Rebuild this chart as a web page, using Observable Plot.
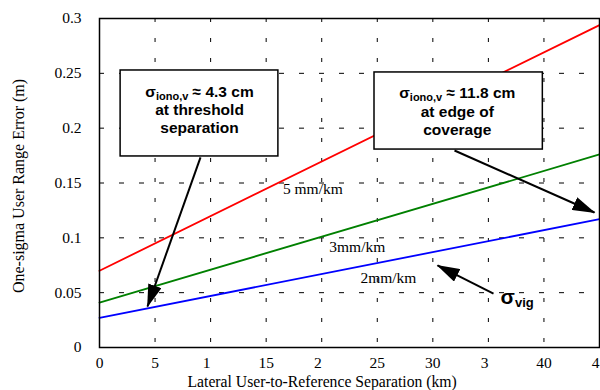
<!DOCTYPE html>
<html><head><meta charset="utf-8">
<script src="https://cdn.jsdelivr.net/npm/d3@7"></script>
<script src="https://cdn.jsdelivr.net/npm/@observablehq/plot@0.6"></script>
<style>body{margin:0;background:#fff}</style>
</head><body><div id="chart"></div>
<script>
// ---- data ----
const separationKm = [0, 45];
const error5mm = [0.070, 0.294];
const error3mm = [0.041, 0.176];
const error2mm = [0.027, 0.117];
const seriesColors = ["#ff0000", "#008000", "#0000ff"];

const xTicks = [0, 5, 10, 15, 20, 25, 30, 35, 40, 45];
const xTickLabels = ["0", "5", "1\u2007", "15", "2\u2007", "25", "30", "3\u2007", "40", "4\u2007"];
const yTicks = [0, 0.05, 0.1, 0.15, 0.2, 0.25, 0.3];
const yTickLabels = ["0", "0.05", "0.1", "0.15", "0.2", "0.25", "0.3"];

const lineLabels = ["5 mm/km", "3mm/km", "2mm/km"];
const lineLabelX = [19.2, 23.2, 26.0];
const lineLabelY = [0.1441, 0.0912, 0.0629];

const boxX1 = [1.9, 24.75];
const boxX2 = [16.1, 39.9];
const boxY1 = [0.1742, 0.1805];
const boxY2 = [0.2526, 0.2508];

const boxTexts = ["σ_{iono,v} ≈ 4.3 cm", "at threshold", "separation",
                  "σ_{iono,v} ≈ 11.8 cm", "at edge of", "coverage"];
const boxTextX = [9.0, 9.0, 9.0, 32.2, 32.2, 32.2];
const boxTextY = [0.2325, 0.2161, 0.1997, 0.2316, 0.2143, 0.1979];

const arrowX1 = [9.09, 31.95, 35.46];
const arrowY1 = [0.1733, 0.1796, 0.0492];
const arrowX2 = [4.32, 44.55, 30.42];
const arrowY2 = [0.0374, 0.1231, 0.0748];

const vigLabel = ["σ_{vig}"];
const vigX = [36.1];
const vigY = [0.0455];

const xTitle = "Lateral User-to-Reference Separation (km)";
const yTitle = "One-sigma User Range Error (m)";

// ---- build tables ----
const lines = [];
[error5mm, error3mm, error2mm].forEach((arr, s) =>
  arr.forEach((v, i) => lines.push({x: separationKm[i], y: v, s})));
const labelsT = lineLabels.map((t, i) => ({t, x: lineLabelX[i], y: lineLabelY[i]}));
const boxesT = boxX1.map((_, i) => ({x1: boxX1[i], x2: boxX2[i], y1: boxY1[i], y2: boxY2[i]}));
const boxTextT = boxTexts.map((t, i) => ({t, x: boxTextX[i], y: boxTextY[i]}));
const arrowsT = arrowX1.map((_, i) => ({x1: arrowX1[i], y1: arrowY1[i], x2: arrowX2[i], y2: arrowY2[i]}));
const vigT = vigLabel.map((t, i) => ({t, x: vigX[i], y: vigY[i]}));

const serif = "'Liberation Serif', 'Times New Roman', serif";
const sans = "'Liberation Sans', Arial, sans-serif";

const chart = Plot.plot({
  width: 600, height: 390,
  marginLeft: 99, marginRight: 1, marginTop: 18, marginBottom: 43,
  style: {fontFamily: serif, fontSize: "15.5px", background: "#fff", color: "#000"},
  x: {domain: [0, 45]},
  y: {domain: [0, 0.3]},
  marks: [
    Plot.gridX(xTicks.slice(1, -1), {stroke: "#000", strokeOpacity: 1, strokeWidth: 1, strokeDasharray: "4,16"}),
    Plot.gridY(yTicks.slice(1, -1), {stroke: "#000", strokeOpacity: 1, strokeWidth: 1, strokeDasharray: "5,15"}),
    Plot.line(lines, {x: "x", y: "y", z: "s", stroke: d => seriesColors[d.s], strokeWidth: 1.8}),
    Plot.rect(boxesT, {x1: "x1", x2: "x2", y1: "y1", y2: "y2", fill: "#fff", stroke: "#000", strokeWidth: 1.5}),
    Plot.text(boxTextT, {x: "x", y: "y", text: "t", fontFamily: sans, fontWeight: "bold", fontSize: 15.5, fill: "#000"}),
    Plot.text(labelsT, {x: "x", y: "y", text: "t", fontFamily: serif, fontSize: 15.5, fill: "#000"}),
    Plot.link(arrowsT, {x1: "x1", y1: "y1", x2: "x2", y2: "y2", stroke: "#000", strokeWidth: 2}),
    Plot.text(vigT, {x: "x", y: "y", text: "t", textAnchor: "start", fontFamily: sans, fontWeight: "bold", fontSize: 21, fill: "#000"}),
    Plot.frame({stroke: "#000", strokeWidth: 1.5}),
    Plot.axisX(xTicks, {tickSize: 0, tickPadding: 9, tickFormat: d => xTickLabels[xTicks.indexOf(d)], label: null, fontSize: 15.5}),
    Plot.axisY(yTicks, {tickSize: 0, tickPadding: 18, tickFormat: d => yTickLabels[yTicks.indexOf(d)], label: null, fontSize: 15.5}),
    Plot.text([yTitle], {frameAnchor: "left", text: d => d, textAnchor: "middle", rotate: -90, dx: -81, dy: 3, fontSize: 16, fill: "#000"}),
    Plot.text([xTitle], {frameAnchor: "bottom-left", text: d => d, textAnchor: "start", dx: 88, dy: 39, fontSize: 15.7, fill: "#000"})
  ]
});

// subscripts
d3.select(chart).selectAll("text").each(function () {
  const t = this.textContent;
  const m = t.match(/^(.*?)_\{(.*?)\}(.*)$/);
  if (!m) return;
  const sel = d3.select(this);
  sel.text(null);
  const vig = m[2] === "vig";
  sel.append("tspan").text(m[1]);
  sel.append("tspan").attr("font-size", vig ? "13px" : "11px").attr("dy", vig ? "3px" : "2.5px").text(m[2]);
  if (m[3]) sel.append("tspan").attr("dy", "-2.5px").text(m[3]);
});

// filled arrow heads
const defs = d3.select(chart).insert("defs", ":first-child");
defs.append("marker").attr("id", "head").attr("markerUnits", "userSpaceOnUse")
  .attr("viewBox", "0 0 23 14").attr("markerWidth", 23).attr("markerHeight", 14)
  .attr("refX", 22).attr("refY", 7).attr("orient", "auto")
  .append("path").attr("d", "M0,0L23,7L0,14Z").attr("fill", "#000");
d3.select(chart).selectAll('g[aria-label="link"] path').attr("marker-end", "url(#head)");

document.getElementById("chart").append(chart);
</script>
</body></html>
